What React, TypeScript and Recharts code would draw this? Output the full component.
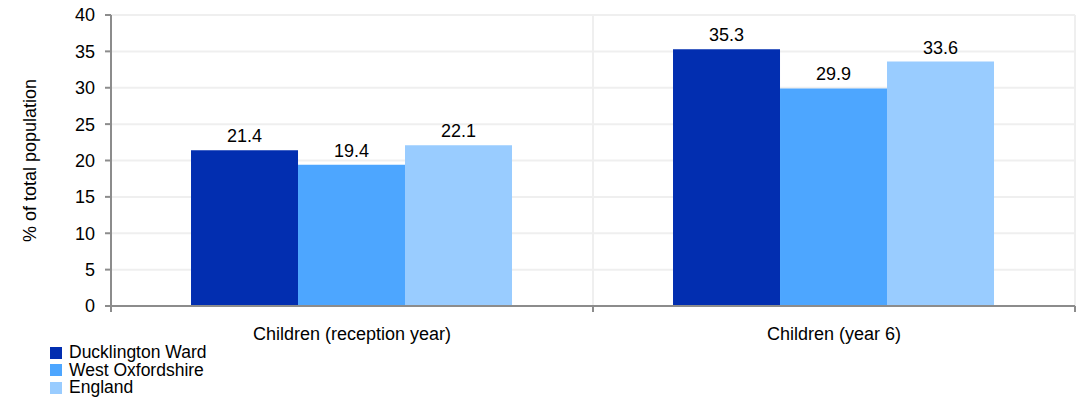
import React from "react";
import {
  BarChart,
  Bar,
  XAxis,
  YAxis,
  CartesianGrid,
  Legend,
  LabelList,
} from "recharts";

const categories = ["Children (reception year)", "Children (year 6)"];
const ducklington = [21.4, 35.3];
const westOxfordshire = [19.4, 29.9];
const england = [22.1, 33.6];
const yTicks = [0, 5, 10, 15, 20, 25, 30, 35, 40];

const series = [
  { key: "ducklington", name: "Ducklington Ward", color: "#022EB0" },
  { key: "westOxon", name: "West Oxfordshire", color: "#4DA6FF" },
  { key: "england", name: "England", color: "#99CCFF" },
];

const data = categories.map((c, i) => ({
  category: c,
  ducklington: ducklington[i],
  westOxon: westOxfordshire[i],
  england: england[i],
}));

const font = "'Liberation Sans', Arial, sans-serif";
const axisColor = "#8c8c8c";
const fs = 18;

function CategoryTick(props: any) {
  const { x, y, payload } = props;
  const half = payload?.offset ?? 241;
  return (
    <g>
      <line x1={x - half} x2={x - half} y1={y} y2={y + 6} stroke={axisColor} strokeWidth={2} />
      <line x1={x + half} x2={x + half} y1={y} y2={y + 6} stroke={axisColor} strokeWidth={2} />
      <text x={x} y={y + 34} textAnchor="middle" fontSize={fs} fill="#000" fontFamily={font}>
        {payload.value}
      </text>
    </g>
  );
}

function LegendList() {
  return (
    <div style={{ fontFamily: font, fontSize: 17.5, color: "#000", lineHeight: "17.5px" }}>
      {series.map((s) => (
        <div key={s.key} style={{ display: "flex", alignItems: "center", height: 17.5 }}>
          <span style={{ width: 12, height: 12, background: s.color, display: "inline-block", marginRight: 7 }} />
          <span>{s.name}</span>
        </div>
      ))}
    </div>
  );
}

export default function App() {
  return (
    <div style={{ position: "absolute", left: 0, top: 0, background: "#fff" }}>
      <BarChart
        width={1082}
        height={399}
        data={data}
        margin={{ top: 15, right: 7, bottom: 2, left: 0 }}
        barCategoryGap="16.6%"
        barGap={0}
      >
        <CartesianGrid
          stroke="#efefef"
          strokeWidth={2}
          verticalCoordinatesGenerator={({ offset }: any) => [
            offset.left + offset.width / 2,
            offset.left + offset.width,
          ]}
        />
        <XAxis
          dataKey="category"
          axisLine={{ stroke: axisColor, strokeWidth: 2 }}
          tickLine={false}
          tickSize={0}
          tickMargin={0}
          tick={<CategoryTick />}
          height={38}
          interval={0}
        />
        <YAxis
          domain={[0, 40]}
          ticks={yTicks}
          width={111}
          axisLine={{ stroke: axisColor, strokeWidth: 2 }}
          tickLine={{ stroke: axisColor, strokeWidth: 2 }}
          tickSize={6}
          tickMargin={10}
          tick={{ fontSize: fs, fill: "#000", fontFamily: font }}
          interval={0}
          label={{
            content: ({ viewBox }: any) => {
              const cy = viewBox.y + viewBox.height / 2;
              return (
                <text
                  x={30}
                  y={cy}
                  transform={`rotate(-90, 30, ${cy})`}
                  textAnchor="middle"
                  dominantBaseline="central"
                  fontSize={fs}
                  fill="#000"
                  fontFamily={font}
                >
                  % of total population
                </text>
              );
            },
          }}
        />
        <Legend
          layout="horizontal"
          verticalAlign="bottom"
          align="left"
          height={53}
          content={<LegendList />}
          wrapperStyle={{ left: 50 }}
        />
        {series.map((s) => (
          <Bar key={s.key} dataKey={s.key} name={s.name} fill={s.color} isAnimationActive={false}>
            <LabelList
              dataKey={s.key}
              position="top"
              offset={8}
              style={{ fontSize: fs, fill: "#000", fontFamily: font }}
            />
          </Bar>
        ))}
      </BarChart>
    </div>
  );
}
